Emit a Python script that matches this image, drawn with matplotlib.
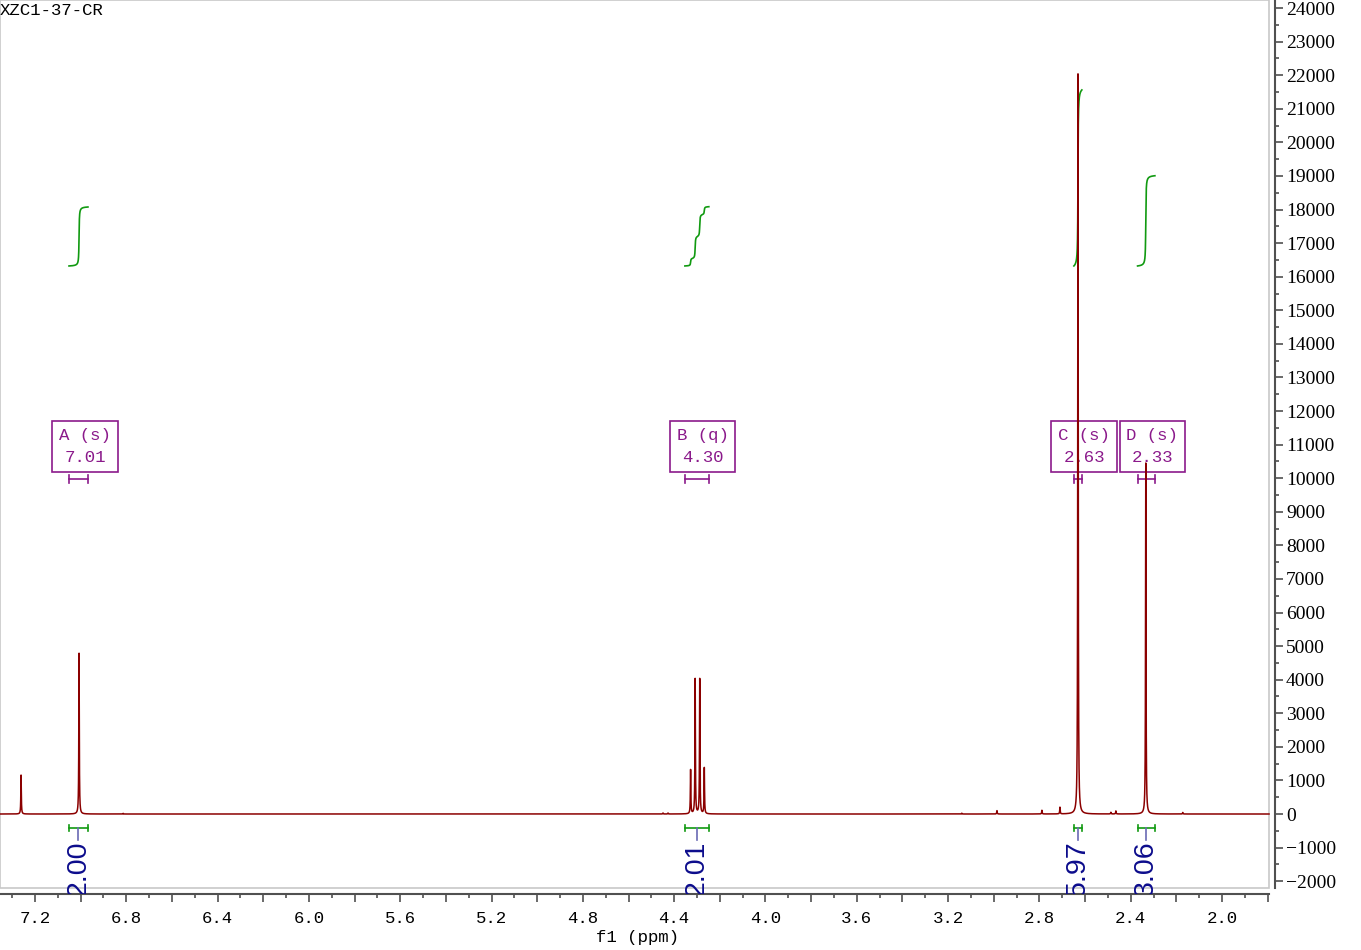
import numpy as np
import matplotlib.pyplot as plt
from matplotlib.ticker import MultipleLocator, FuncFormatter
from matplotlib.patches import Rectangle

# picos del espectro (ppm, altura)
pico_ppm = [7.261, 7.007, 4.328, 4.308, 4.288, 4.268, 2.631, 2.334,
            3.140, 2.986, 2.789, 2.710, 2.487, 2.465, 2.172, 4.449, 4.427, 6.814]
pico_alt = [1160, 4795, 1310, 4020, 4020, 1370, 22066, 10452,
            25, 100, 110, 200, 50, 90, 45, 30, 30, 20]
ancho = 0.0012  # semi-anchura lorentziana (ppm)

# multipletes
mult_nombre = ['A (s)', 'B (q)', 'C (s)', 'D (s)']
mult_ppm = ['7.01', '4.30', '2.63', '2.33']
mult_caja = [6.981, 4.276, 2.603, 2.305]
rangos = [(7.051, 6.968), (4.353, 4.248), (2.649, 2.614), (2.370, 2.294)]
integrales = [2.00, 2.01, 5.97, 3.06]

rojo = '#8b0000'
verde = '#119a11'
morado = '#8b1a8b'
azul = '#0c0c8c'

x = np.linspace(7.3533, 1.7941, 60000)
y = np.zeros_like(x)
for p, h in zip(pico_ppm, pico_alt):
    y += h / (1 + ((x - p) / ancho) ** 2)

fig = plt.figure(figsize=(13.61, 9.50), dpi=100)
ax = fig.add_axes([0, 56 / 950, 1275 / 1361, 894 / 950])
ax.set_xlim(7.3533, 1.7679)
ax.set_ylim(-2382, 24240)

ax.plot(x, y, color=rojo, lw=1.1, zorder=5)

# marco gris
ax.add_patch(Rectangle((7.3533, -2204), 1.7941 - 7.3533, 24240 + 2204,
                       fill=False, ec='#c8c8c8', lw=1.2, clip_on=False, zorder=1))

for i in range(4):
    a, b = rangos[i]
    m = (x <= a) & (x >= b)
    c = np.cumsum(y[m])
    c = c / c[-1] * integrales[i] * 878 + 16320
    ax.plot(x[m], c, color=verde, lw=1.2, zorder=4)

    # barra de integral abajo
    ax.plot([a, b], [-417, -417], color=verde, lw=1.2)
    ax.plot([a, a], [-517, -317], color=verde, lw=1.2)
    ax.plot([b, b], [-517, -317], color=verde, lw=1.2)
    xc = (a + b) / 2
    ax.plot([xc, xc], [-417, -780], color='#6a6ab4', lw=1.2)
    ax.text(xc, -800, f'{integrales[i]:.2f}', rotation=90, ha='center', va='top',
            color=azul, fontsize=20.5, family='Liberation Sans', clip_on=True)

    # caja del multiplete
    ax.text(mult_caja[i], 10944, mult_nombre[i] + '\n' + mult_ppm[i], ha='center',
            va='center', color=morado, fontsize=12.5, family='Liberation Mono',
            linespacing=1.55,
            bbox=dict(boxstyle='square,pad=0.4', fc='none', ec=morado, lw=1.2))
    ax.plot([a, b], [9976, 9976], color=morado, lw=1.2)
    ax.plot([a, a], [9856, 10096], color=morado, lw=1.2)
    ax.plot([b, b], [9856, 10096], color=morado, lw=1.2)

ax.text(0.0, 1 - 3 / 894, 'XZC1-37-CR', transform=ax.transAxes, ha='left', va='top',
        fontsize=12.5, family='Liberation Mono')

# ejes
for s in ['top', 'left']:
    ax.spines[s].set_visible(False)
ax.spines['right'].set_color('#505050')
ax.spines['bottom'].set_color('#505050')
ax.spines['right'].set_linewidth(1.5)
ax.spines['bottom'].set_linewidth(1.5)
ax.spines['right'].set_bounds(-2204, 24240)
ax.spines['bottom'].set_bounds(7.3533, 1.7941)

ax.yaxis.tick_right()
ax.yaxis.set_major_locator(MultipleLocator(1000))
ax.yaxis.set_minor_locator(MultipleLocator(500))
ax.yaxis.set_major_formatter(FuncFormatter(lambda v, p: f'{v:.0f}'.replace('-', '\u2212')))
ax.tick_params(axis='y', which='major', length=6, width=1.2, pad=2, color='#505050',
               labelsize=14)
ax.tick_params(axis='y', which='minor', length=3, width=1.2, color='#505050')
for t in ax.get_yticklabels():
    t.set_family('Liberation Serif')

ax.xaxis.set_major_locator(MultipleLocator(0.2))
ax.xaxis.set_minor_locator(MultipleLocator(0.1))


def etiqueta(v, p):
    if abs(v / 0.4 - round(v / 0.4)) < 1e-6:
        return f'{v:.1f}'
    return ''


ax.xaxis.set_major_formatter(FuncFormatter(etiqueta))
ax.tick_params(axis='x', which='major', length=6, width=1.2, pad=6, color='#505050',
               labelsize=12.5)
ax.tick_params(axis='x', which='minor', length=3, width=1.2, color='#505050')
for t in ax.get_xticklabels():
    t.set_family('Liberation Mono')
ax.set_xlabel('f1 (ppm)', fontsize=12.5, family='Liberation Mono', labelpad=3)

fig.savefig('out.png', dpi=100)
